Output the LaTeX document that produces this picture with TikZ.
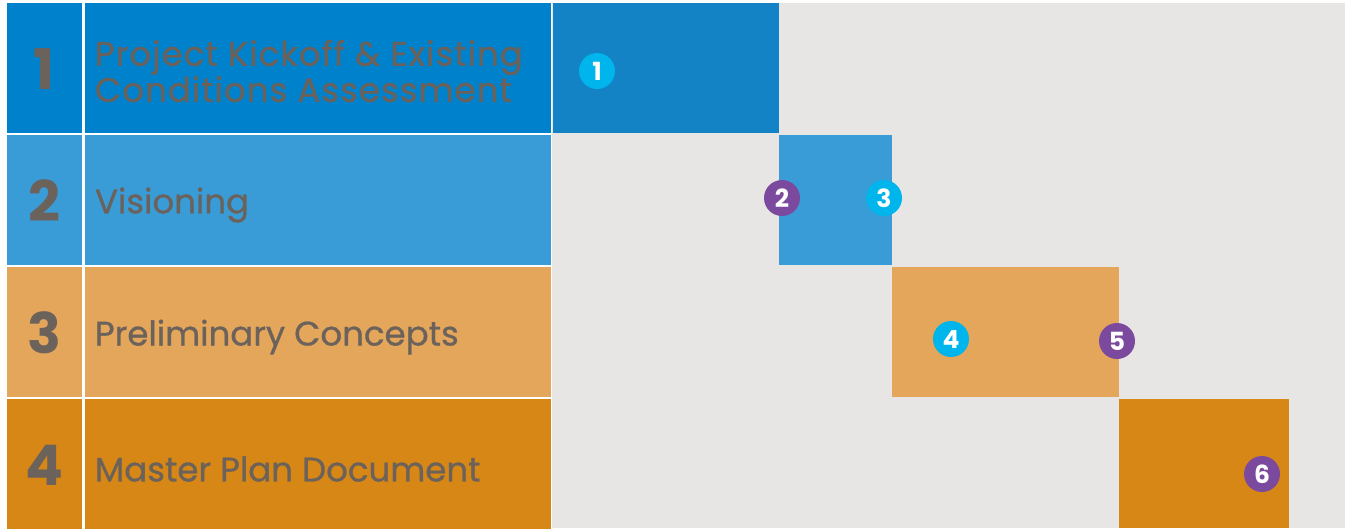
\documentclass[tikz,border=0pt]{standalone}
\usepackage{fontspec}
\setmainfont{Poppins}
\definecolor{phaseA}{HTML}{0081CB}
\definecolor{phaseB}{HTML}{3A9CD7}
\definecolor{phaseC}{HTML}{E4A65B}
\definecolor{phaseD}{HTML}{D78716}
\definecolor{barA}{HTML}{1483C6}
\definecolor{panelgrey}{HTML}{E7E6E4}
\definecolor{labelgrey}{HTML}{6B625B}
\definecolor{dotcyan}{HTML}{00B5EB}
\definecolor{dotpurple}{HTML}{7B4A9E}
\begin{document}
\begin{tikzpicture}[x=1pt,y=-1pt]
\tikzstyle{every node}+=[inner sep=0pt,outer sep=0pt]
\tikzstyle{cell}=[anchor=north west,minimum height=130pt]
\tikzstyle{numcell}=[cell,minimum width=75pt]
\tikzstyle{namecell}=[cell,minimum width=466pt]
\tikzstyle{phasenum}=[text=labelgrey,font=\fontsize{56}{56}\selectfont\bfseries]
\tikzstyle{phasename}=[anchor=west,text=labelgrey,align=left,font=\fontsize{34}{34}\selectfont\addfontfeature{FakeBold=0.8}]
\tikzstyle{dot}=[circle,minimum size=36pt,text=white,font=\fontsize{25}{25}\selectfont\bfseries]
\useasboundingbox (0,0) rectangle (1347,528);
\fill [white] (0,0) rectangle (1347,528);
\fill [panelgrey] (552,3) rectangle (1345,528);
% table
\node [numcell,fill=phaseA] (n1) at (7,3) {};
\node [namecell,fill=phaseA] (t1) at (85,3) {};
\node [numcell,fill=phaseB] (n2) at (7,135) {};
\node [namecell,fill=phaseB] (t2) at (85,135) {};
\node [numcell,fill=phaseC] (n3) at (7,267) {};
\node [namecell,fill=phaseC] (t3) at (85,267) {};
\node [numcell,fill=phaseD] (n4) at (7,399) {};
\node [namecell,fill=phaseD] (t4) at (85,399) {};
\node [phasenum] at ([yshift=-1pt]n1.center) {1};
\node [phasenum] at ([yshift=-1pt]n2.center) {2};
\node [phasenum] at ([yshift=-1pt]n3.center) {3};
\node [phasenum] at ([yshift=-1pt]n4.center) {4};
\node [phasename] at ([xshift=10pt,yshift=-3pt]t1.west) {\addfontfeature{LetterSpace=3}Project Kickoff \& Existing\\\addfontfeature{LetterSpace=3}Conditions Assessment};
\node [phasename] at ([xshift=10pt,yshift=-5pt]t2.west) {Visioning};
\node [phasename] at ([xshift=10pt,yshift=-5pt]t3.west) {Preliminary Concepts};
\node [phasename] at ([xshift=10pt,yshift=-5pt]t4.west) {Master Plan Document};
% bars
\node [cell,fill=barA,minimum width=226pt] (b1) at (553,3) {};
\node [cell,fill=phaseB,minimum width=113pt] (b2) at (779,135) {};
\node [cell,fill=phaseC,minimum width=227pt] (b3) at (892,267) {};
\node [cell,fill=phaseD,minimum width=170pt,minimum height=129pt] (b4) at (1119,399) {};
% milestones
\node [dot,fill=dotcyan] (m1) at (597,71) {1};
\node [dot,fill=dotpurple] (m2) at (782,198) {2};
\node [dot,fill=dotcyan] (m3) at (884,198) {3};
\node [dot,fill=dotcyan] (m4) at (951,339) {4};
\node [dot,fill=dotpurple] (m5) at (1117,341) {5};
\node [dot,fill=dotpurple] (m6) at (1262,474) {6};
\end{tikzpicture}
\end{document}
